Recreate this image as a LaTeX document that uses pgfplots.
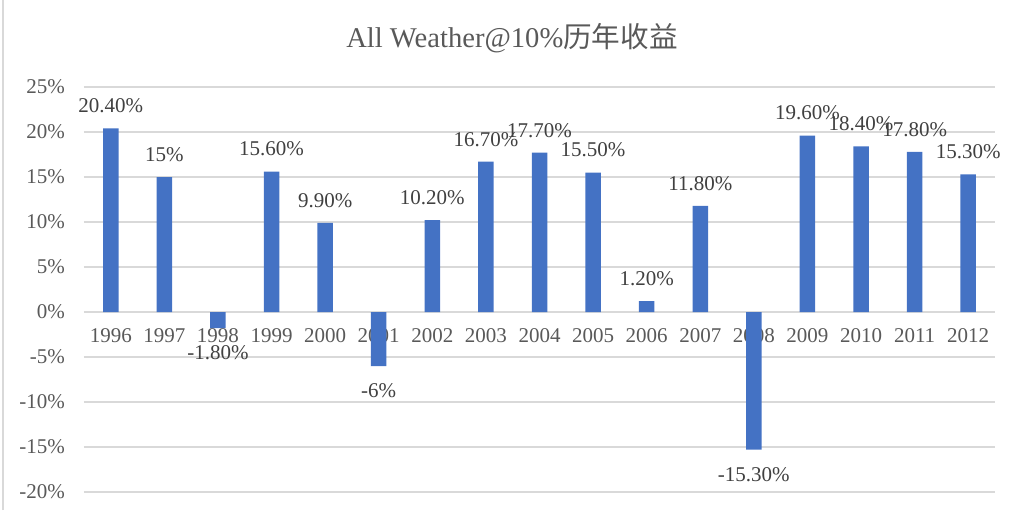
\documentclass[border=0pt]{standalone}
\usepackage{fontspec}
\setmainfont{Liberation Serif}
\newfontfamily\cjk{Noto Sans CJK SC}
\usepackage{pgfplots}
\pgfplotsset{compat=1.18}
\definecolor{barblue}{HTML}{4472C4}
\definecolor{gridgray}{HTML}{D9D9D9}
\definecolor{txtgray}{HTML}{595959}
\definecolor{lblgray}{HTML}{404040}
\begin{document}
\begin{tikzpicture}
\useasboundingbox (0,0) rectangle (508.5pt,255pt);
\draw[gridgray, line width=0.8pt] (1.5pt,0) -- (1.5pt,255pt);
\node[txtgray, anchor=center] at (256pt,236pt) {\fontsize{14.3}{16}\selectfont All Weather@10\%{\cjk 历年收益}};
\begin{axis}[
  at={(42pt,9pt)}, anchor=south west,
  scale only axis, width=455.5pt, height=202.5pt,
  xmin=-0.5, xmax=16.5, ymin=-20, ymax=25,
  axis line style={draw=none}, major tick length=0,
  ymajorgrids, grid style={gridgray, line width=1pt},
  ytick={-20,-15,-10,-5,0,5,10,15,20,25},
  yticklabel={\pgfmathprintnumber{\tick}\%},
  /pgf/number format/assume math mode=true,
  xtick={0,...,16},
  xticklabels={1996,1997,1998,1999,2000,2001,2002,2003,2004,2005,2006,2007,2008,2009,2010,2011,2012},
  ticklabel style={color=txtgray, font=\fontsize{10.5}{12}\selectfont},
  xticklabel style={anchor=center, yshift=78pt},
  yticklabel style={xshift=-6pt},
  clip=false,
]
% positive values
\addplot[ybar, bar width=7.75pt, bar shift=0pt, fill=barblue, draw=none,
  nodes near coords, point meta=explicit symbolic,
  nodes near coords style={font=\fontsize{10.5}{12}\selectfont, color=lblgray, inner ysep=7.5pt, inner xsep=0pt, anchor=south}]
coordinates {
(0,20.4) [20.40\%]
(1,15.0) [15\%]
(3,15.6) [15.60\%]
(4,9.9) [9.90\%]
(6,10.2) [10.20\%]
(7,16.7) [16.70\%]
(8,17.7) [17.70\%]
(9,15.5) [15.50\%]
(10,1.2) [1.20\%]
(11,11.8) [11.80\%]
(13,19.6) [19.60\%]
(14,18.4) [18.40\%]
(15,17.8) [17.80\%]
(16,15.3) [15.30\%]
};
% negative values
\addplot[ybar, bar width=7.75pt, bar shift=0pt, fill=barblue, draw=none,
  nodes near coords, point meta=explicit symbolic,
  nodes near coords style={font=\fontsize{10.5}{12}\selectfont, color=lblgray, inner ysep=8.5pt, inner xsep=0pt, anchor=north}]
coordinates {
(2,-1.8) [-1.80\%]
(5,-6.0) [-6\%]
(12,-15.3) [-15.30\%]
};
\end{axis}
\end{tikzpicture}
\end{document}
